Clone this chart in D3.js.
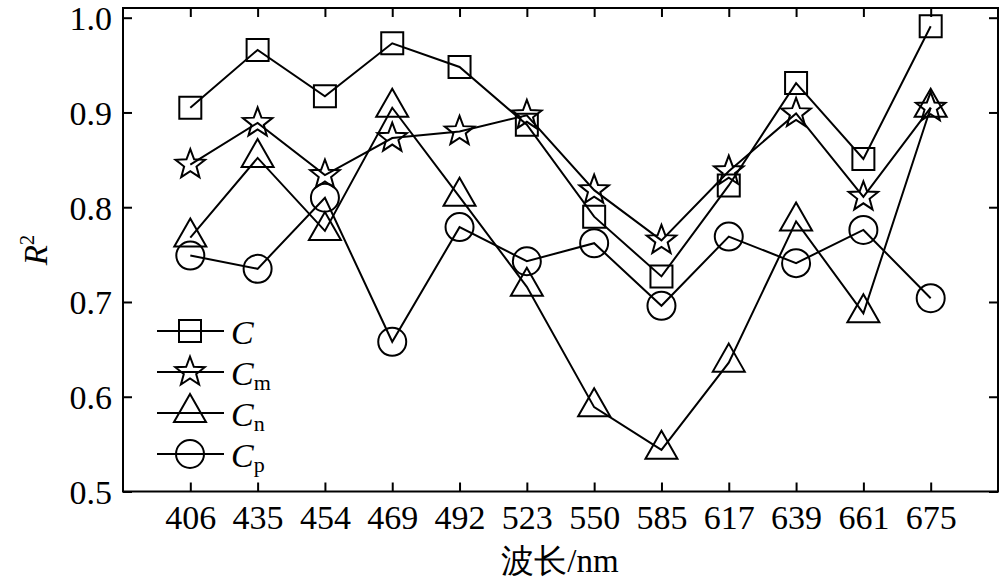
<!DOCTYPE html>
<html><head><meta charset="utf-8">
<script src="https://cdn.jsdelivr.net/npm/d3@7"></script>
<style>body{margin:0;background:#fff}svg{display:block}</style>
</head><body>
<svg id="c" width="1000" height="584"></svg>
<script>
const categories = ["406","435","454","469","492","523","550","585","617","639","661","675"];
const C  = [0.905,0.966,0.917,0.973,0.948,0.887,0.790,0.727,0.823,0.931,0.851,0.991];
const Cm = [0.845,0.889,0.834,0.873,0.880,0.897,0.818,0.765,0.838,0.899,0.811,0.905];
const Cn = [0.768,0.852,0.775,0.905,0.811,0.716,0.589,0.544,0.636,0.785,0.688,0.905];
const Cp = [0.749,0.735,0.810,0.658,0.779,0.743,0.762,0.696,0.769,0.741,0.776,0.704];
const yTicks = [0.5,0.6,0.7,0.8,0.9,1.0];

const svg = d3.select("#c");
const L = 123, R = 998, T = 8, B = 491.5;
const x = d3.scalePoint().domain(categories).range([L, R]).padding(1);
const y = d3.scaleLinear().domain([0.5, 1.0]).range([B, 17.7]);
const font = "'Liberation Serif','Times New Roman',serif";

// frame
svg.append("rect").attr("x",L).attr("y",T).attr("width",R-L).attr("height",B-T)
  .attr("fill","none").attr("stroke","#000").attr("stroke-width",2);

// axes
const ax = svg.append("g").attr("transform",`translate(0,${B})`)
  .call(d3.axisBottom(x).tickSizeInner(-9).tickSizeOuter(0).tickPadding(13));
const ay = svg.append("g").attr("transform",`translate(${L},0)`)
  .call(d3.axisLeft(y).tickValues(yTicks).tickFormat(d3.format(".1f")).tickSizeInner(-9).tickSizeOuter(0).tickPadding(11));
svg.append("g").attr("transform",`translate(0,${T})`)
  .call(d3.axisTop(x).tickSizeInner(-9).tickSizeOuter(0).tickFormat(""));
svg.append("g").attr("transform",`translate(${R},0)`)
  .call(d3.axisRight(y).tickValues(yTicks).tickSizeInner(-9).tickSizeOuter(0).tickFormat(""));
svg.selectAll(".domain").remove();
svg.selectAll(".tick line").attr("stroke","#000").attr("stroke-width",2);
svg.selectAll(".tick text").attr("font-family",font).attr("font-size",34).attr("fill","#000");
ay.selectAll(".tick text").attr("dy","0.35em");

// axis titles
svg.append("text").attr("x",560).attr("y",572).attr("text-anchor","middle")
  .attr("font-family",font).attr("font-size",33).text("波长/nm");
const yt = svg.append("text").attr("transform","translate(47,250) rotate(-90)").attr("text-anchor","middle")
  .attr("font-family",font).attr("font-size",33);
yt.append("tspan").attr("font-style","italic").text("R");
yt.append("tspan").attr("font-size",21).attr("dy",-13).text("2");

// marker shapes
function starPath(ro, ri){
  const pts=[];
  for(let i=0;i<10;i++){const r=i%2?ri:ro;const a=-Math.PI/2+i*Math.PI/5;pts.push([r*Math.cos(a),r*Math.sin(a)]);}
  return "M"+pts.map(p=>p.join(",")).join("L")+"Z";
}
const shapes = {
  square: "M-11,-11H11V11H-11Z",
  star: starPath(15.5,6.5),
  triangle: "M0,-19L16,9H-16Z",
  circle: d3.arc()({innerRadius:0,outerRadius:14,startAngle:0,endAngle:2*Math.PI})
};

const series = [
  {name:"C", sub:"", vals:C, shape:"square"},
  {name:"C", sub:"m", vals:Cm, shape:"star"},
  {name:"C", sub:"n", vals:Cn, shape:"triangle"},
  {name:"C", sub:"p", vals:Cp, shape:"circle"}
];

const line = d3.line().x((d,i)=>x(categories[i])).y(d=>y(d));
series.forEach(s=>{
  const g = svg.append("g");
  g.append("path").attr("d",line(s.vals)).attr("fill","none").attr("stroke","#000").attr("stroke-width",2);
  g.selectAll("path.m").data(s.vals).join("path").attr("class","m")
    .attr("transform",(d,i)=>`translate(${x(categories[i])},${y(d)})`)
    .attr("d",shapes[s.shape]).attr("fill","none").attr("stroke","#000").attr("stroke-width",2);
});

// legend
const legY = [331,372,413,454];
series.forEach((s,i)=>{
  const g = svg.append("g").attr("transform",`translate(0,${legY[i]})`);
  g.append("line").attr("x1",157).attr("x2",224).attr("y1",0).attr("y2",0).attr("stroke","#000").attr("stroke-width",2);
  g.append("path").attr("transform","translate(190,0)").attr("d",shapes[s.shape])
    .attr("fill","none").attr("stroke","#000").attr("stroke-width",2);
  const t = g.append("text").attr("x",231).attr("y",13).attr("font-family",font).attr("font-size",34);
  t.append("tspan").attr("font-style","italic").text(s.name);
  if(s.sub) t.append("tspan").attr("font-size",22).attr("dy",5).text(s.sub);
});
</script>
</body></html>
